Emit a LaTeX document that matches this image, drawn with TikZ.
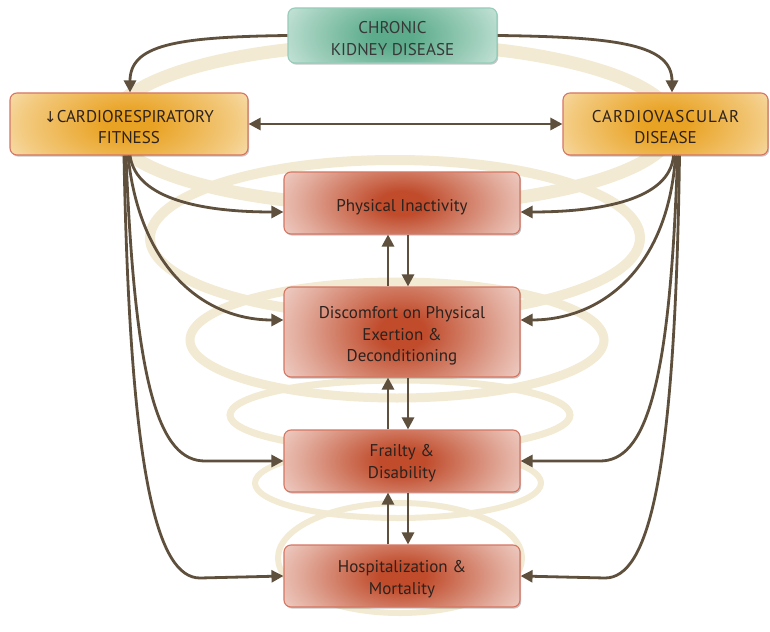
\documentclass[tikz,border=0pt]{standalone}
\usepackage{fontspec}
\setmainfont{PT Sans}
\newfontfamily\arrowfont{DejaVu Sans}
\usetikzlibrary{arrows.meta,shadows,calc}

\definecolor{arrC}{RGB}{95,80,62}
\definecolor{ringC}{RGB}{242,234,210}
\definecolor{redC}{RGB}{192,76,44}
\definecolor{redE}{RGB}{253,246,244}
\definecolor{redB}{RGB}{214,118,98}
\definecolor{oraC}{RGB}{233,163,36}
\definecolor{oraE}{RGB}{255,250,240}
\definecolor{grnC}{RGB}{92,172,140}
\definecolor{grnE}{RGB}{242,250,247}
\definecolor{grnB}{RGB}{150,205,186}
\definecolor{txtC}{RGB}{45,34,30}

\pgfdeclareradialshading{redglow}{\pgfpoint{0bp}{0bp}}{color(0bp)=(redC); color(3bp)=(redC); color(13bp)=(redC!45!redE); color(22bp)=(redE); color(50bp)=(redE)}
\pgfdeclareradialshading{oraglow}{\pgfpoint{0bp}{0bp}}{color(0bp)=(oraC); color(3bp)=(oraC); color(13bp)=(oraC!55!oraE); color(22bp)=(oraE); color(50bp)=(oraE)}
\pgfdeclareradialshading{grnglow}{\pgfpoint{0bp}{0bp}}{color(0bp)=(grnC); color(3bp)=(grnC); color(13bp)=(grnC!50!grnE); color(22bp)=(grnE); color(50bp)=(grnE)}

\tikzset{
  basebox/.style={rectangle, rounded corners=7pt, line width=1.1pt, inner sep=0pt,
    drop shadow={shadow xshift=1.2pt, shadow yshift=-1.6pt, opacity=0.22, fill=black}},
  redbox/.style={basebox, draw=redB, minimum width=236pt, minimum height=62pt,
    path picture={\shade[shading=redglow] (path picture bounding box.center) ellipse (195pt and #1);}},
  redbox/.default=100pt,
  orabox/.style={basebox, draw=redB, minimum height=62pt,
    path picture={\shade[shading=oraglow] (path picture bounding box.center) ellipse (#1 and 105pt);}},
  grnbox/.style={basebox, draw=grnB, minimum width=209pt, minimum height=55pt,
    path picture={\shade[shading=grnglow] (path picture bounding box.center) ellipse (175pt and 95pt);}},
  txt/.style={align=center, font=\fontsize{17}{21.5}\selectfont, text=txtC, inner sep=0pt},
  ring/.style={draw=ringC},
  arr/.style={draw=arrC, line width=2.8pt, -{Triangle[length=12pt,width=12pt]}},
  darr/.style={draw=arrC, line width=2.8pt, {Triangle[length=12pt,width=12pt]}-{Triangle[length=12pt,width=12pt]}},
}

\begin{document}
\begin{tikzpicture}[x=1pt,y=-1pt]
\useasboundingbox (0,0) rectangle (770,631);
\fill[white] (0,0) rectangle (770,631);

% background rings
\draw[ring, line width=13pt] (392,125) ellipse (282pt and 81pt);
\draw[ring, line width=10pt] (395,238) ellipse (245pt and 78pt);
\draw[ring, line width=9pt] (397,340) ellipse (207pt and 58pt);
\draw[ring, line width=7pt] (400,415) ellipse (170pt and 35pt);
\draw[ring, line width=6pt] (398,483) ellipse (143pt and 35pt);
\draw[ring, line width=6pt] (400,558) ellipse (122pt and 55pt);

% boxes
\node[grnbox] (ckd) at (392.5,35.5) {};
\node[orabox=205pt, minimum width=238pt] (cr) at (129,124) {};
\node[orabox=185pt, minimum width=205pt] (cvd) at (665.5,124) {};
\node[redbox] (phys) at (402,203) {};
\node[redbox=140pt, minimum height=90pt] (disc) at (402,332) {};
\node[redbox] (frail) at (402,461) {};
\node[redbox] (hosp) at (402,576) {};

% texts
\node[txt, text=black!78] (ckdT) at ([yshift=-3pt]ckd.center) {CHRONIC\\KIDNEY DISEASE};
\node[txt] (crT) at ([yshift=-3pt]cr.center) {{\arrowfont\fontsize{15}{15}\selectfont ↓}CARDIORESPIRATORY\\FITNESS};
\node[txt] (cvdT) at ([yshift=-3pt]cvd.center) {{\addfontfeature{LetterSpace=6}CARDIOVASCULAR}\\DISEASE};
\node[txt] (physT) at ([yshift=-4pt]phys.center) {Physical Inactivity};
\node[txt] (discT) at ([yshift=-4pt]disc.center) {Discomfort on Physical\\Exertion \&\\Deconditioning};
\node[txt] (frailT) at ([yshift=-2pt]frail.center) {Frailty \&\\Disability};
\node[txt] (hospT) at ([yshift=-3pt]hosp.center) {Hospitalization \&\\Mortality};

% CKD to top boxes
\draw[arr] (ckd.west) .. controls (175,37) and (130,45) .. ([xshift=1pt]cr.north);
\draw[arr] (ckd.east) .. controls (620,37) and (672,45) .. ([xshift=6.5pt]cvd.north);
\draw[darr] (cr.east) -- (cvd.west);

% left fan
\draw[arr] ([xshift=1pt]cr.south) .. controls (136,200) and (205,212) .. ([yshift=-9pt]phys.west);
\draw[arr] ([xshift=-1pt]cr.south) .. controls (140,270) and (205,320) .. ([yshift=12pt]disc.west);
\draw[arr] ([xshift=-3pt]cr.south) .. controls (135,390) and (160,461) .. (205,461) -- (frail.west);
\draw[arr] ([xshift=-5pt]cr.south) .. controls (130,480) and (158,578) .. (200,578) -- (hosp.west);

% right fan
\draw[arr] ([xshift=8pt]cvd.south) .. controls (670,200) and (600,212) .. ([yshift=-9pt]phys.east);
\draw[arr] ([xshift=10pt]cvd.south) .. controls (668,270) and (600,320) .. ([yshift=12pt]disc.east);
\draw[arr] ([xshift=12pt]cvd.south) .. controls (670,390) and (645,461) .. (600,461) -- (frail.east);
\draw[arr] ([xshift=14pt]cvd.south) .. controls (675,480) and (648,578) .. (605,578) -- (hosp.east);

% vertical arrows
\draw[arr] ([xshift=-14pt]disc.north) -- ([xshift=-14pt]phys.south);
\draw[arr] ([xshift=6pt]phys.south) -- ([xshift=6pt]disc.north);
\draw[arr] ([xshift=-14pt]frail.north) -- ([xshift=-14pt]disc.south);
\draw[arr] ([xshift=6pt]disc.south) -- ([xshift=6pt]frail.north);
\draw[arr] ([xshift=-14pt]hosp.north) -- ([xshift=-14pt]frail.south);
\draw[arr] ([xshift=6pt]frail.south) -- ([xshift=6pt]hosp.north);
\end{tikzpicture}
\end{document}
